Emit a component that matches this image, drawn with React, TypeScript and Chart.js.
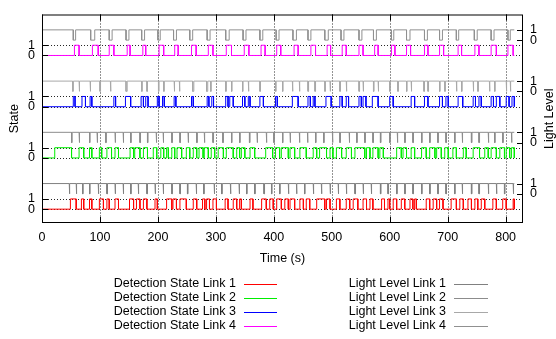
import React, { useEffect, useRef } from "react";
import { Chart, registerables } from "chart.js";

Chart.register(...registerables);

// ---------------- data (seconds) ----------------
const TIME_END = 815;
const X_TICKS = [0, 100, 200, 300, 400, 500, 600, 700, 800];
const LINK_NAMES = ["Link 1", "Link 2", "Link 3", "Link 4"];
const LINK_OFFSETS = [0, 5, 10, 15];
const STATE_TICK_LABELS = [0, 1];
const LIGHT_TICK_LABELS = [0, 1];
const LIGHT_SHIFT = 1.5;

// detection state = 1 intervals [start, end]
const STATE_LINK1 = [
  [49, 59], [68, 72], [82, 86], [99, 106], [112, 116], [126, 132], [151, 158], [163, 169], [175, 181], [195, 199],
  [215, 224], [226, 232], [238, 249], [261, 267], [277, 281], [284, 289], [295, 301], [316, 321], [330, 336], [341, 344],
  [359, 364], [379, 387], [393, 399], [405, 413], [419, 425], [428, 436], [445, 451], [456, 462], [474, 488], [491, 497],
  [508, 514], [525, 531], [537, 545], [554, 560], [566, 571], [586, 591], [597, 600], [606, 612], [620, 626], [635, 640],
  [643, 646], [663, 669], [675, 681], [686, 692], [706, 715], [721, 727], [735, 741], [747, 752], [758, 764], [778, 784],
  [795, 801], [813, 815],
];
const STATE_LINK2 = [
  [22, 51], [64, 72], [82, 86], [99, 103], [112, 120], [126, 132], [152, 158], [160, 169], [175, 182], [192, 198],
  [205, 210], [215, 218], [224, 229], [233, 241], [249, 255], [261, 267], [271, 278], [280, 287], [292, 298], [304, 313],
  [318, 330], [336, 341], [344, 350], [359, 367], [386, 398], [403, 410], [413, 425], [428, 436], [445, 456], [468, 474],
  [479, 491], [497, 502], [508, 517], [525, 534], [540, 557], [560, 566], [571, 580], [583, 589], [612, 620], [623, 629],
  [637, 643], [655, 663], [669, 678], [681, 689], [695, 701], [709, 715], [727, 732], [744, 755], [764, 770], [775, 784],
  [790, 798], [801, 807], [810, 815],
];
const STATE_LINK3 = [
  [54, 57], [69, 75], [83, 86], [124, 127], [144, 153], [171, 175], [179, 183], [199, 202], [208, 211], [228, 231],
  [258, 261], [285, 288], [293, 296], [317, 321], [324, 330], [346, 350], [356, 359], [376, 382], [403, 406], [432, 442],
  [459, 463], [468, 471], [490, 499], [514, 518], [525, 529], [547, 551], [554, 559], [570, 580], [600, 606], [637, 643],
  [660, 666], [686, 691], [697, 701], [718, 726], [744, 748], [754, 758], [775, 779], [784, 790], [801, 806], [811, 815],
];
const STATE_LINK4 = [
  [56, 64], [87, 97], [116, 124], [147, 152], [174, 179], [202, 210], [229, 235], [258, 266], [287, 295], [318, 327],
  [349, 357], [378, 385], [405, 412], [435, 442], [464, 472], [492, 498], [518, 525], [547, 554], [574, 580], [603, 609],
  [629, 636], [660, 666], [686, 693], [718, 724], [747, 754], [775, 784], [804, 813],
];

// light level = 0 intervals [start, end] (level is 1 otherwise)
const LIGHT_LINK1 = [
  [47, 48], [59, 60], [70, 71], [82, 83], [97, 98], [112, 113], [126, 127], [140, 141], [153, 154], [166, 167],
  [181, 182], [195, 196], [209, 210], [224, 225], [238, 239], [251, 252], [266, 267], [279, 280], [297, 298], [310, 311],
  [325, 326], [340, 341], [353, 354], [367, 368], [383, 384], [396, 397], [410, 411], [425, 426], [439, 440], [453, 454],
  [468, 469], [482, 483], [497, 498], [511, 512], [525, 526], [540, 541], [554, 555], [568, 569], [584, 585], [597, 598],
  [612, 613], [626, 627], [640, 641], [655, 656], [669, 670], [683, 684], [697, 698], [712, 713], [725, 726], [741, 742],
  [754, 755], [770, 771], [784, 785], [798, 799], [813, 814],
];
const LIGHT_LINK2 = [
  [51, 52], [64, 65], [82, 83], [95, 96], [110, 111], [126, 127], [140, 141], [153, 154], [169, 170], [182, 183],
  [197, 198], [209, 210], [224, 225], [238, 239], [252, 253], [267, 268], [280, 281], [295, 296], [312, 313], [327, 328],
  [341, 342], [358, 359], [371, 372], [387, 388], [400, 401], [415, 416], [428, 429], [444, 445], [458, 459], [472, 473],
  [486, 487], [501, 502], [514, 515], [530, 531], [543, 544], [557, 558], [571, 572], [584, 585], [600, 601], [613, 614],
  [626, 627], [640, 641], [655, 656], [669, 670], [683, 684], [697, 698], [712, 713], [725, 726], [741, 742], [754, 755],
  [770, 771], [781, 782], [795, 796], [810, 811],
];
const LIGHT_LINK3 = [
  [53, 54], [64, 65], [83, 84], [100, 101], [118, 119], [145, 147], [172, 173], [181, 182], [201, 202], [210, 211],
  [228, 229], [237, 238], [260, 262], [284, 286], [291, 292], [317, 318], [327, 328], [346, 347], [356, 357], [376, 377],
  [403, 404], [415, 416], [432, 433], [444, 445], [459, 460], [471, 472], [488, 489], [497, 498], [514, 515], [525, 526],
  [547, 548], [554, 555], [572, 573], [580, 581], [600, 601], [614, 615], [629, 630], [637, 638], [659, 660], [666, 667],
  [686, 687], [695, 696], [715, 716], [724, 725], [744, 745], [752, 753], [772, 773], [781, 782], [801, 802], [808, 809],
];
const LIGHT_LINK4 = [
  [54, 58], [84, 91], [116, 121], [145, 150], [172, 177], [200, 204], [227, 232], [255, 260], [285, 290], [317, 323],
  [347, 352], [376, 381], [404, 409], [433, 439], [459, 464], [488, 494], [516, 521], [547, 552], [572, 577], [603, 607],
  [629, 635], [660, 665], [686, 691], [715, 719], [746, 751], [775, 780], [804, 808],
];

const STATE_SERIES = [STATE_LINK1, STATE_LINK2, STATE_LINK3, STATE_LINK4];
const LIGHT_SERIES = [LIGHT_LINK1, LIGHT_LINK2, LIGHT_LINK3, LIGHT_LINK4];

// ---------------- styles ----------------
const STATE_COLORS = ["#ff0000", "#00ee00", "#0000ff", "#ff00ff"];
const LIGHT_COLORS = ["#808080", "#8c8c8c", "#a8a8a8", "#909090"];
const FONT = '"Liberation Sans", Arial, Helvetica, sans-serif';
const FONT_SIZE = 12.5;

function stepPoints(intervals: number[][], idle: number, active: number, end: number) {
  const pts: { x: number; y: number }[] = [{ x: 0, y: idle }];
  for (const [a, b] of intervals) {
    pts.push({ x: a, y: idle }, { x: a, y: active }, { x: b, y: active }, { x: b, y: idle });
  }
  pts.push({ x: end, y: idle });
  return pts;
}

const STATE_TICKS = LINK_OFFSETS.flatMap((o) => STATE_TICK_LABELS.map((v) => o + v));
const LIGHT_TICKS = LINK_OFFSETS.flatMap((o) => LIGHT_TICK_LABELS.map((v) => o + LIGHT_SHIFT + v));

const decor = {
  id: "gnuplotDecor",
  beforeDatasetsDraw(chart: any) {
    const { ctx, chartArea: a, scales } = chart;
    ctx.save();
    ctx.strokeStyle = "rgba(0,0,0,0.85)";
    ctx.lineWidth = 1;
    ctx.setLineDash([1, 2]);
    ctx.beginPath();
    for (const v of X_TICKS) {
      if (v === 0) continue;
      const px = Math.round(scales.x.getPixelForValue(v)) + 0.5;
      ctx.moveTo(px, a.top);
      ctx.lineTo(px, a.bottom);
    }
    for (const v of STATE_TICKS) {
      const py = Math.round(scales.y.getPixelForValue(v)) + 0.5;
      ctx.moveTo(a.left, py);
      ctx.lineTo(a.right, py);
    }
    ctx.stroke();
    ctx.restore();
  },
  afterDatasetsDraw(chart: any) {
    const { ctx, chartArea: a, scales } = chart;
    ctx.save();
    ctx.setLineDash([]);
    ctx.strokeStyle = "#000";
    ctx.lineWidth = 1;
    ctx.strokeRect(a.left + 0.5, a.top + 0.5, a.right - a.left - 1, a.bottom - a.top - 1);
    const TL = 6;
    ctx.beginPath();
    for (const v of X_TICKS) {
      const px = Math.round(scales.x.getPixelForValue(v)) + 0.5;
      ctx.moveTo(px, a.bottom);
      ctx.lineTo(px, a.bottom - TL);
      ctx.moveTo(px, a.top);
      ctx.lineTo(px, a.top + TL);
    }
    for (const v of STATE_TICKS) {
      const py = Math.round(scales.y.getPixelForValue(v)) + 0.5;
      ctx.moveTo(a.left, py);
      ctx.lineTo(a.left + TL, py);
    }
    for (const v of LIGHT_TICKS) {
      const py = Math.round(scales.y2.getPixelForValue(v)) + 0.5;
      ctx.moveTo(a.right, py);
      ctx.lineTo(a.right - TL, py);
    }
    ctx.stroke();

    // right axis title, reading bottom-to-top like gnuplot
    ctx.fillStyle = "#000";
    ctx.font = `${FONT_SIZE}px ${FONT}`;
    ctx.save();
    ctx.translate(550, (a.top + a.bottom) / 2);
    ctx.rotate(-Math.PI / 2);
    ctx.textAlign = "center";
    ctx.textBaseline = "middle";
    ctx.fillText("Light Level", 0, 0);
    ctx.restore();

    // legend
    const rows = [284, 298, 312, 326];
    const cols = [
      { textRight: 236, x0: 244, x1: 277 },
      { textRight: 446, x0: 454, x1: 488 },
    ];
    ctx.textAlign = "right";
    ctx.textBaseline = "middle";
    const ds = chart.data.datasets;
    for (let i = 0; i < 4; i++) {
      const entries = [ds[i], ds[4 + i]];
      entries.forEach((d: any, c: number) => {
        const col = cols[c];
        ctx.fillStyle = "#000";
        ctx.fillText(d.label, col.textRight, rows[i]);
        ctx.strokeStyle = d.borderColor;
        ctx.lineWidth = 1;
        ctx.beginPath();
        ctx.moveTo(col.x0, rows[i] + 0.5);
        ctx.lineTo(col.x1, rows[i] + 0.5);
        ctx.stroke();
      });
    }
    ctx.restore();
  },
};

export default function App() {
  const ref = useRef<HTMLCanvasElement | null>(null);

  useEffect(() => {
    if (!ref.current) return;
    const stateSets = STATE_SERIES.map((s, i) => ({
      label: `Detection State ${LINK_NAMES[i]}`,
      data: stepPoints(s, LINK_OFFSETS[i], LINK_OFFSETS[i] + 1, TIME_END),
      borderColor: STATE_COLORS[i],
      backgroundColor: STATE_COLORS[i],
      borderWidth: 1,
      pointRadius: 0,
      fill: false,
      tension: 0,
      yAxisID: "y",
    }));
    const lightSets = LIGHT_SERIES.map((s, i) => ({
      label: `Light Level ${LINK_NAMES[i]}`,
      data: stepPoints(s, LINK_OFFSETS[i] + LIGHT_SHIFT + 1, LINK_OFFSETS[i] + LIGHT_SHIFT, TIME_END),
      borderColor: LIGHT_COLORS[i],
      backgroundColor: LIGHT_COLORS[i],
      borderWidth: 1,
      pointRadius: 0,
      fill: false,
      tension: 0,
      yAxisID: "y",
    }));

    const font = { family: FONT, size: FONT_SIZE };
    const chart = new Chart(ref.current, {
      type: "line",
      data: { datasets: [...stateSets, ...lightSets] as any },
      options: {
        animation: false,
        responsive: false,
        devicePixelRatio: 1,
        events: [],
        layout: { padding: { top: 9, bottom: 68, left: 0, right: 0 } },
        plugins: { legend: { display: false }, tooltip: { enabled: false } },
        scales: {
          x: {
            type: "linear",
            min: 0,
            max: 830,
            afterBuildTicks: (s: any) => {
              s.ticks = X_TICKS.map((v) => ({ value: v }));
            },
            afterFit: (s: any) => {
              s.height = 48;
            },
            grid: { display: false, drawTicks: false },
            border: { display: false },
            ticks: { color: "#000", font, padding: 7.5, autoSkip: false, maxRotation: 0 },
            title: { display: true, text: "Time (s)", color: "#000", font, padding: { top: 0, bottom: 5 } },
          },
          y: {
            type: "linear",
            position: "left",
            min: -1.35,
            max: 19,
            afterBuildTicks: (s: any) => {
              s.ticks = STATE_TICKS.map((v) => ({ value: v }));
            },
            afterFit: (s: any) => {
              s.width = 42;
            },
            grid: { display: false, drawTicks: false },
            border: { display: false },
            ticks: {
              color: "#000",
              font,
              padding: 7,
              autoSkip: false,
              callback: (v: any) => String(STATE_TICK_LABELS[Math.round(Number(v)) % 5]),
            },
            title: { display: true, text: "State", color: "#000", font, padding: { top: 7.5, bottom: 0 } },
          },
          y2: {
            type: "linear",
            position: "right",
            min: -1.35,
            max: 19,
            afterBuildTicks: (s: any) => {
              s.ticks = LIGHT_TICKS.map((v) => ({ value: v }));
            },
            afterFit: (s: any) => {
              s.width = 33;
            },
            grid: { display: false, drawTicks: false },
            border: { display: false },
            ticks: {
              color: "#000",
              font,
              padding: 7,
              autoSkip: false,
              callback: (v: any) => String(LIGHT_TICK_LABELS[Math.round((Number(v) - LIGHT_SHIFT) % 5)]),
            },
          },
        },
      },
      plugins: [decor],
    });
    return () => chart.destroy();
  }, []);

  return (
    <div style={{ position: "fixed", left: 0, top: 0, width: 556, height: 339, background: "#fff" }}>
      <canvas ref={ref} width={556} height={339} style={{ width: 556, height: 339, display: "block" }} />
    </div>
  );
}
